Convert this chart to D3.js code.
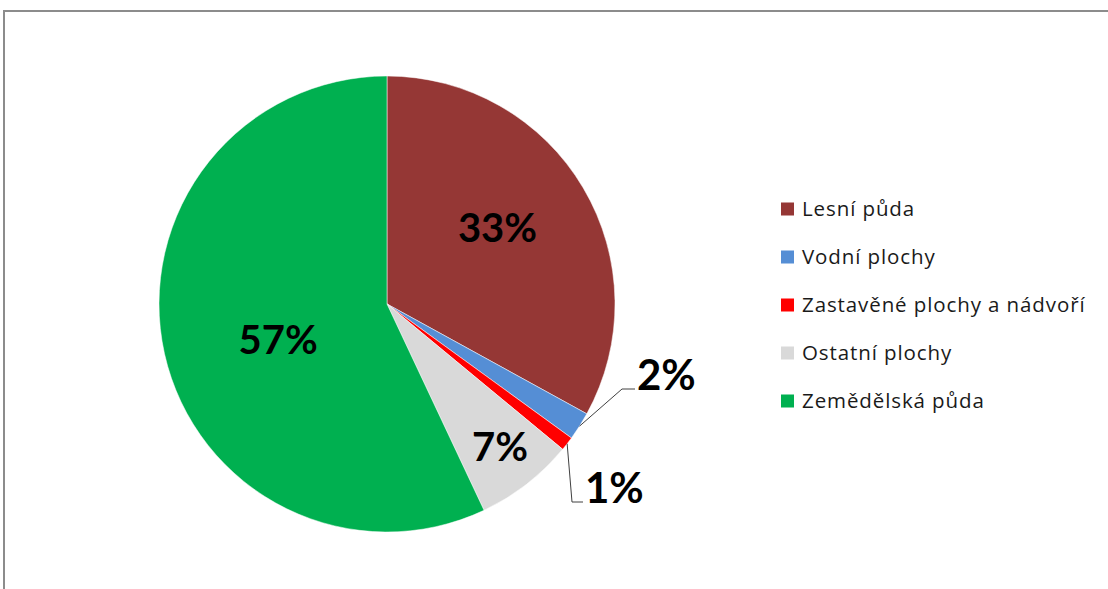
<!DOCTYPE html>
<html>
<head>
<meta charset="utf-8">
<script src="https://cdn.jsdelivr.net/npm/d3@7"></script>
<style>
  body { margin: 0; background: #fff; }
  svg { display: block; }
</style>
</head>
<body>
<svg width="1108" height="589"></svg>
<script>
// land use shares (%)
const categories = ["Lesní půda", "Vodní plochy", "Zastavěné plochy a nádvoří", "Ostatní plochy", "Zemědělská půda"];
const values = [33, 2, 1, 7, 57];
const colors = ["#953735", "#558ED5", "#FF0000", "#D9D9D9", "#00B050"];

const width = 1108, height = 589;
const cx = 387, cy = 304, r = 228;

const svg = d3.select("svg");

// chart frame
svg.append("rect")
    .attr("x", 4).attr("y", 11)
    .attr("width", 1200).attr("height", 700)
    .attr("fill", "none")
    .attr("stroke", "#8c8c8c")
    .attr("stroke-width", 2);

const pie = d3.pie().sort(null).value(d => d)(values);
const arc = d3.arc().innerRadius(0).outerRadius(r);

const g = svg.append("g").attr("transform", `translate(${cx},${cy})`);

g.selectAll(".slice")
    .data(pie)
    .enter().append("path")
    .attr("class", "slice")
    .attr("d", arc)
    .attr("fill", (d, i) => colors[i])
    .attr("stroke", "#fff")
    .attr("stroke-width", 0.5);

// label placement: [fraction along the slice, fraction of radius]; small slices go outside
const labelPos = [[0.465, 0.59], null, null, [0.48, 0.8], [0.472, 0.503]];
const fmt = v => Math.round(v) + "%";

const labelFont = "Lato, 'Open Sans', sans-serif";
const labelSize = 40;
const capHalf = labelSize * 0.7165 / 2;

pie.forEach((d, i) => {
    const p = labelPos[i];
    if (!p) return;
    const a = d.startAngle + (d.endAngle - d.startAngle) * p[0], rr = r * p[1];
    g.append("text")
        .attr("x", rr * Math.sin(a))
        .attr("y", -rr * Math.cos(a) + capHalf)
        .attr("text-anchor", "middle")
        .attr("font-family", labelFont)
        .attr("font-weight", "bold")
        .attr("font-size", labelSize)
        .attr("fill", "#000")
        .text(fmt(values[i]));
});

// outside labels (2% and 1%)
const outside = [
    { i: 1, elbow: [235, 85], end: [248, 85] },
    { i: 2, elbow: [185, 198], end: [196, 198] }
];
outside.forEach(o => {
    const d = pie[o.i], a = (d.startAngle + d.endAngle) / 2;
    const p0 = [r * Math.sin(a), -r * Math.cos(a)];
    g.append("polyline")
        .attr("points", [p0, o.elbow, o.end].map(p => p.join(",")).join(" "))
        .attr("fill", "none")
        .attr("stroke", "#404040")
        .attr("stroke-width", 1);
    g.append("text")
        .attr("x", o.end[0] + 2)
        .attr("y", o.end[1] + 1)
        .attr("font-family", labelFont)
        .attr("font-weight", "bold")
        .attr("font-size", labelSize + 2)
        .attr("fill", "#000")
        .text(fmt(values[o.i]));
});

// legend
const legend = svg.append("g").attr("transform", "translate(781,209)");
const item = legend.selectAll(".item")
    .data(categories)
    .enter().append("g")
    .attr("class", "item")
    .attr("transform", (d, i) => `translate(0,${i * 48})`);

item.append("rect")
    .attr("x", 0).attr("y", -6.5)
    .attr("width", 13).attr("height", 13)
    .attr("fill", (d, i) => colors[i]);

item.append("text")
    .attr("x", 21)
    .attr("y", 7)
    .attr("font-family", "'Open Sans', sans-serif")
    .attr("font-size", 20.5)
    .attr("letter-spacing", 0.9)
    .attr("fill", "#1a1a1a")
    .text(d => d);
</script>
</body>
</html>
